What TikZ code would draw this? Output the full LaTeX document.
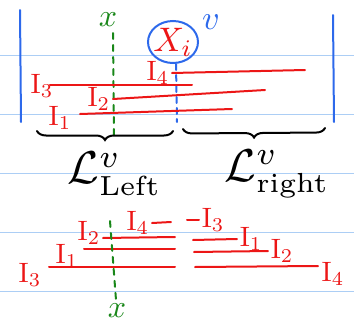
\documentclass[tikz,border=0pt]{standalone}
\usepackage{amsmath}
\usetikzlibrary{decorations.pathreplacing,shapes.geometric}
\definecolor{rulecol}{RGB}{172,206,245}
\definecolor{penblue}{RGB}{45,105,235}
\definecolor{penred}{RGB}{236,22,22}
\definecolor{pengreen}{RGB}{25,135,25}

\begin{document}
\begin{tikzpicture}[x=1pt,y=-1pt,line width=2pt,line cap=round,
  redline/.style={penred},
  ilabel/.style={text=penred,inner sep=0pt,scale=2.8,transform shape},
  cut/.style={pengreen,dashed,dash pattern=on 6pt off 6pt},
  brackline/.style={black,decorate,decoration={brace,mirror,amplitude=9pt}}]
  \useasboundingbox (0,0) rectangle (354,327);
  \foreach \y in {55,114,173,232,291}
    \draw[rulecol,line width=1pt] (0,\y) -- (354,\y);

  % top row: sorted intervals inside the node
  \draw[penblue] (20,10) -- (21,122);
  \draw[penblue] (333,15) -- (334,122);
  \draw[penblue,dashed,dash pattern=on 6pt off 5pt] (176,64) -- (177,122);

  \node[draw=penblue,ellipse,minimum width=50pt,minimum height=42pt,inner sep=0pt] (Xi) at (173,42) {};
  \node[text=penred,scale=3.4,transform shape] at (Xi) {$X_i$};
  \node[text=penblue,scale=3.4,transform shape] (vsup) at (211,22) {$v$};

  \node[text=pengreen,scale=3.2,transform shape] (xtop) at (108,20) {$x$};
  \coordinate (CutTopA) at (113,33);
  \coordinate (CutTopB) at (114,137);
  \draw[cut] (CutTopA) -- (CutTopB);

  \coordinate (TFourA) at (172,73);  \coordinate (TFourB) at (305,70);
  \coordinate (TThreeA) at (50,85);  \coordinate (TThreeB) at (192,85);
  \coordinate (TTwoA) at (113,99);   \coordinate (TTwoB) at (265,90);
  \coordinate (TOneA) at (80,114);   \coordinate (TOneB) at (232,109);
  \draw[redline] (TFourA) -- (TFourB);
  \draw[redline] (TThreeA) -- (TThreeB);
  \draw[redline] (TTwoA) -- (TTwoB);
  \draw[redline] (TOneA) -- (TOneB);
  \node[ilabel,left] at (TFourA) {$\mathrm{I}_4$};
  \node[ilabel] at (42,86) {$\mathrm{I}_3$};
  \node[ilabel,left] at (TTwoA) {$\mathrm{I}_2$};
  \node[ilabel] at (60,118) {$\mathrm{I}_1$};

  % split into left and right lists
  \coordinate (BraceLA) at (37,131);  \coordinate (BraceLB) at (173,131);
  \coordinate (BraceRA) at (183,129); \coordinate (BraceRB) at (325,128);
  \draw[brackline] (BraceLA) -- (BraceLB);
  \draw[brackline] (BraceRA) -- (BraceRB);
  \node[scale=4.6,transform shape,anchor=west,inner sep=0pt] (Lleft) at (63,174)
    {$\mathcal{L}^{v}_{\mbox{\fontsize{6}{6}\selectfont Left}}$};
  \node[scale=4.6,transform shape,anchor=west,inner sep=0pt] (Lright) at (220,174)
    {$\mathcal{L}^{v}_{\mbox{\fontsize{6}{6}\selectfont right}}$};

  % bottom row: the two lists
  \coordinate (LOneA) at (103,238);  \coordinate (LOneB) at (175,237);
  \coordinate (LTwoA) at (84,249);   \coordinate (LTwoB) at (175,249);
  \coordinate (LThreeA) at (49,267); \coordinate (LThreeB) at (175,267);
  \coordinate (LFourA) at (152,223); \coordinate (LFourB) at (171,222);
  \draw[redline] (LOneA) -- (LOneB);
  \draw[redline] (LTwoA) -- (LTwoB);
  \draw[redline] (LThreeA) -- (LThreeB);
  \draw[redline] (LFourA) -- (LFourB);
  \node[ilabel] at (89,233) {$\mathrm{I}_2$};
  \node[ilabel] at (67,256) {$\mathrm{I}_1$};
  \node[ilabel] at (30,275) {$\mathrm{I}_3$};
  \node[ilabel,left] at (LFourA) {$\mathrm{I}_4$};

  \coordinate (ROneA) at (193,240);   \coordinate (ROneB) at (237,239);
  \coordinate (RTwoA) at (194,252);   \coordinate (RTwoB) at (268,251);
  \coordinate (RFourA) at (195,267);  \coordinate (RFourB) at (318,266);
  \coordinate (RThreeA) at (187,220); \coordinate (RThreeB) at (199,220);
  \draw[redline] (ROneA) -- (ROneB);
  \draw[redline] (RTwoA) -- (RTwoB);
  \draw[redline] (RFourA) -- (RFourB);
  \draw[redline] (RThreeA) -- (RThreeB);
  \node[ilabel,right] at (ROneB) {$\mathrm{I}_1$};
  \node[ilabel,right] at (RTwoB) {$\mathrm{I}_2$};
  \node[ilabel] at (333,274) {$\mathrm{I}_4$};
  \node[ilabel,right] at (RThreeB) {$\mathrm{I}_3$};

  \coordinate (CutBotA) at (110,221);
  \coordinate (CutBotB) at (116,300);
  \draw[cut] (CutBotA) -- (CutBotB);
  \node[text=pengreen,scale=3.2,transform shape] (xbot) at (117,311) {$x$};
\end{tikzpicture}
\end{document}
